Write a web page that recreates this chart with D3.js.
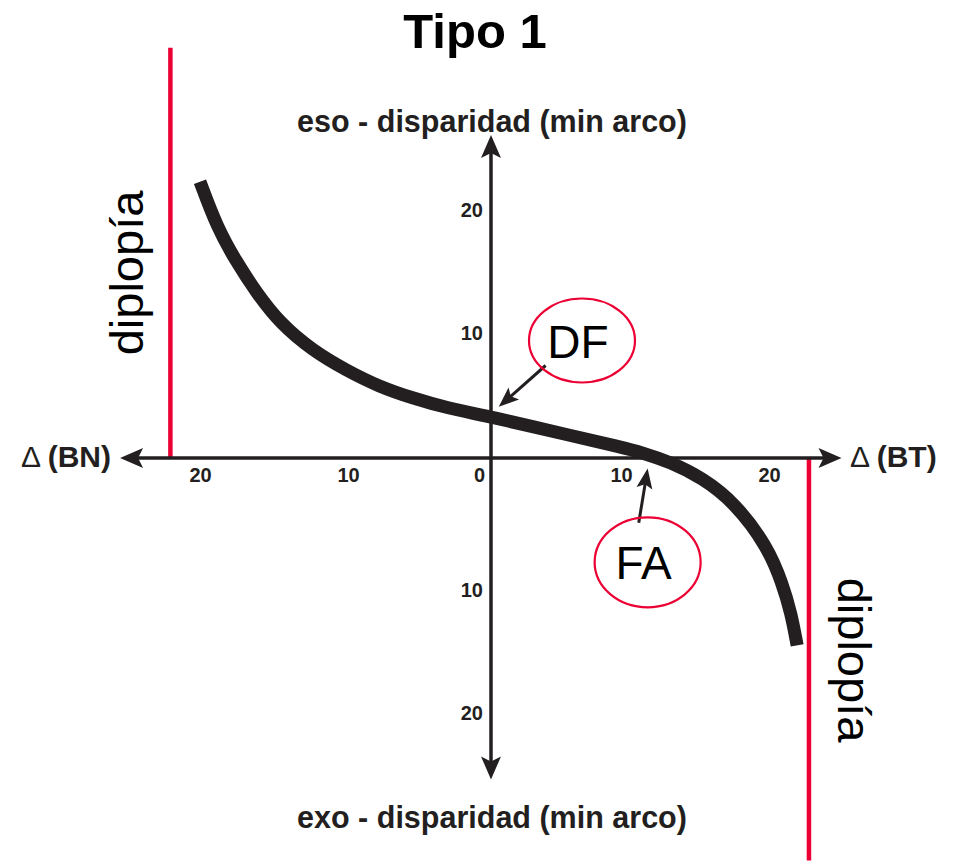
<!DOCTYPE html>
<html>
<head>
<meta charset="utf-8">
<script src="https://cdn.jsdelivr.net/npm/d3@7"></script>
<style>
  html, body { margin: 0; padding: 0; background: #fff; }
  svg { display: block; font-family: "Liberation Sans", Arial, Helvetica, sans-serif; }
  .tick text { font-size: 20px; font-weight: bold; font-family: "Liberation Sans", Arial, sans-serif; }
</style>
</head>
<body>
<svg id="chart" width="953" height="861"></svg>
<script>
// Prism (Δ) on the horizontal axis, fixation disparity (min arc) on the vertical axis.
const titleText = "Tipo 1";
const yTopLabel = "eso - disparidad (min arco)";
const yBottomLabel = "exo - disparidad (min arco)";
const xLeftLabel = "(BN)";
const xRightLabel = "(BT)";

const xTickValues = [-20, -10, 0, 10, 20];
const xTickLabels = ["20", "10", "0", "10", "20"];
const yTickValues = [20, 10, -10, -20];
const yTickLabels = ["20", "10", "10", "20"];

// Axis extents (data units)
const xAxisExtent = [-25.4, 24.9];
const yAxisExtent = [-25.4, 26.1];

// Fixation disparity curve
const curveX = [-20, -18.85, -17.6, -16.2, -14.6, -12.4, -10.1, -7.8, -5.5, -3.1, 0, 6.1, 9.9, 11.5, 13.3, 15.5, 17.7, 19.9, 20.9, 21.5, 21.9];
const curveY = [22.3, 18.6, 15.9, 13.3, 10.8, 8.6, 7.0, 5.7, 4.8, 4.0, 3.3, 1.8, 0.9, 0.4, -0.3, -1.5, -3.4, -6.7, -9.5, -11.9, -14.5];

// Diplopia limits
const limitX = [-22.0, 22.7];
const limitFrom = [0, 0];
const limitTo = [33.2, -32.0];
const limitText = ["diplopía", "diplopía"];

// Callouts: DF (fixation disparity at zero prism), FA (associated phoria)
const calloutText = ["DF", "FA"];
const calloutCx = [7.0, 11.8];
const calloutCy = [9.4, -7.9];
const arrowFromX = [4.2, 11.2];
const arrowFromY = [7.4, -4.9];
const arrowToX = [0.6, 11.8];
const arrowToY = [4.1, -0.8];

const ink = "#231f20";
const red = "#ec0033";

const svg = d3.select("#chart");

const x = d3.scaleLinear().domain([-20, -10, 0, 10, 20]).range([200, 348, 491, 621, 769]);
const y = d3.scaleLinear().domain([-20, -10, 0, 10, 20]).range([713, 590, 458, 333, 210]);

// Arrowhead markers
const defs = svg.append("defs");
function addMarker(id, len, half, notch) {
  defs.append("marker")
    .attr("id", id)
    .attr("markerUnits", "userSpaceOnUse")
    .attr("viewBox", `${-len - 1} ${-half - 1} ${len + 2} ${2 * half + 2}`)
    .attr("refX", 0).attr("refY", 0)
    .attr("markerWidth", len + 2).attr("markerHeight", 2 * half + 2)
    .attr("orient", "auto")
    .append("path")
    .attr("d", `M0,0 L${-len},${-half} L${-len + notch},0 L${-len},${half} Z`)
    .attr("fill", ink);
}
addMarker("axisArrow", 23, 10, 5);
addMarker("noteArrow", 20, 8, 4);

// Title
svg.append("text")
  .attr("x", 475).attr("y", 48)
  .attr("text-anchor", "middle")
  .attr("font-size", 49).attr("font-weight", "bold")
  .attr("fill", "#000")
  .text(titleText);

// Red diplopia limits
svg.append("g").selectAll("line")
  .data(limitX)
  .join("line")
  .attr("x1", d => x(d)).attr("x2", d => x(d))
  .attr("y1", (d, i) => y(limitFrom[i]))
  .attr("y2", (d, i) => y(limitTo[i]))
  .attr("stroke", red).attr("stroke-width", 4.5);

// Axis lines with arrows at both ends
function axisLine(x1, y1, x2, y2) {
  const dx = x2 - x1, dy = y2 - y1, L = Math.hypot(dx, dy);
  const ux = dx / L, uy = dy / L;
  const g = svg.append("g");
  // shaft stops short of the tips; markers placed at the tips
  g.append("line")
    .attr("x1", x1 + ux * 12).attr("y1", y1 + uy * 12)
    .attr("x2", x2 - ux * 12).attr("y2", y2 - uy * 12)
    .attr("stroke", ink).attr("stroke-width", 3.5);
  g.append("path")
    .attr("d", `M${x1 + ux * 14},${y1 + uy * 14} L${x1},${y1}`)
    .attr("stroke", "none").attr("fill", "none")
    .attr("marker-end", "url(#axisArrow)");
  g.append("path")
    .attr("d", `M${x2 - ux * 14},${y2 - uy * 14} L${x2},${y2}`)
    .attr("stroke", "none").attr("fill", "none")
    .attr("marker-end", "url(#axisArrow)");
}
axisLine(x(xAxisExtent[0]), y(0), x(xAxisExtent[1]), y(0));
axisLine(x(0), y(yAxisExtent[0]), x(0), y(yAxisExtent[1]));

// Tick labels via d3 axes (no tick marks, no domain path)
const xAxisG = svg.append("g")
  .attr("transform", `translate(0,${y(0)})`)
  .call(d3.axisBottom(x).tickValues(xTickValues).tickSize(0).tickPadding(10)
    .tickFormat((d, i) => xTickLabels[i]));
xAxisG.attr("font-size", null).attr("font-family", null);
xAxisG.select(".domain").remove();
xAxisG.selectAll("text")
  .attr("fill", ink)
  .attr("dx", d => d === 0 ? -12 : 0);

const yAxisG = svg.append("g")
  .attr("transform", `translate(${x(0)},0)`)
  .call(d3.axisLeft(y).tickValues(yTickValues).tickSize(0).tickPadding(8)
    .tickFormat((d, i) => yTickLabels[i]));
yAxisG.attr("font-size", null).attr("font-family", null);
yAxisG.select(".domain").remove();
yAxisG.selectAll("text").attr("fill", ink);

// Axis end labels
svg.append("text")
  .attr("x", x(0) + 1).attr("y", 132)
  .attr("text-anchor", "middle")
  .attr("font-size", 30.5).attr("font-weight", "bold").attr("fill", ink)
  .text(yTopLabel);
svg.append("text")
  .attr("x", x(0) + 1).attr("y", 828)
  .attr("text-anchor", "middle")
  .attr("font-size", 30.5).attr("font-weight", "bold").attr("fill", ink)
  .text(yBottomLabel);

const leftLab = svg.append("text")
  .attr("x", 111).attr("y", 467)
  .attr("text-anchor", "end")
  .attr("font-size", 30).attr("fill", ink);
leftLab.append("tspan").attr("font-weight", "normal").text("Δ ");
leftLab.append("tspan").attr("font-weight", "bold").text(xLeftLabel);

const rightLab = svg.append("text")
  .attr("x", 850).attr("y", 467)
  .attr("text-anchor", "start")
  .attr("font-size", 30).attr("fill", ink);
rightLab.append("tspan").attr("font-weight", "normal").text("Δ ");
rightLab.append("tspan").attr("font-weight", "bold").text(xRightLabel);

// Diplopia labels beside the limits
svg.append("text")
  .attr("transform", `translate(143,273) rotate(-90)`)
  .attr("text-anchor", "middle")
  .attr("font-size", 47).attr("fill", "#000")
  .text(limitText[0]);
svg.append("text")
  .attr("transform", `translate(838,660) rotate(90)`)
  .attr("text-anchor", "middle")
  .attr("font-size", 47).attr("fill", "#000")
  .text(limitText[1]);

// Curve (B-spline through the read points keeps it smooth)
const pts = curveX.map((d, i) => [d, curveY[i]]);
svg.append("path")
  .datum(pts)
  .attr("d", d3.line().x(d => x(d[0])).y(d => y(d[1])).curve(d3.curveBasis))
  .attr("fill", "none")
  .attr("stroke", ink)
  .attr("stroke-width", 13)
  .attr("stroke-linecap", "butt");

// Callouts
const notes = svg.append("g");
calloutText.forEach((t, i) => {
  const x1 = x(arrowFromX[i]), y1 = y(arrowFromY[i]);
  const x2 = x(arrowToX[i]), y2 = y(arrowToY[i]);
  const L = Math.hypot(x2 - x1, y2 - y1);
  const ux = (x2 - x1) / L, uy = (y2 - y1) / L;
  notes.append("line")
    .attr("x1", x1).attr("y1", y1)
    .attr("x2", x2 - ux * 10).attr("y2", y2 - uy * 10)
    .attr("stroke", ink).attr("stroke-width", 3);
  notes.append("path")
    .attr("d", `M${x2 - ux * 2},${y2 - uy * 2} L${x2},${y2}`)
    .attr("stroke", "none").attr("fill", "none")
    .attr("marker-end", "url(#noteArrow)");
  notes.append("ellipse")
    .attr("cx", x(calloutCx[i])).attr("cy", y(calloutCy[i]))
    .attr("rx", 53).attr("ry", i === 0 ? 42 : 45)
    .attr("fill", "none").attr("stroke", red).attr("stroke-width", 2.2);
  notes.append("text")
    .attr("x", x(calloutCx[i]) - 4).attr("y", y(calloutCy[i]) + 17)
    .attr("text-anchor", "middle")
    .attr("font-size", 46).attr("fill", "#000")
    .text(t);
});
</script>
</body>
</html>
